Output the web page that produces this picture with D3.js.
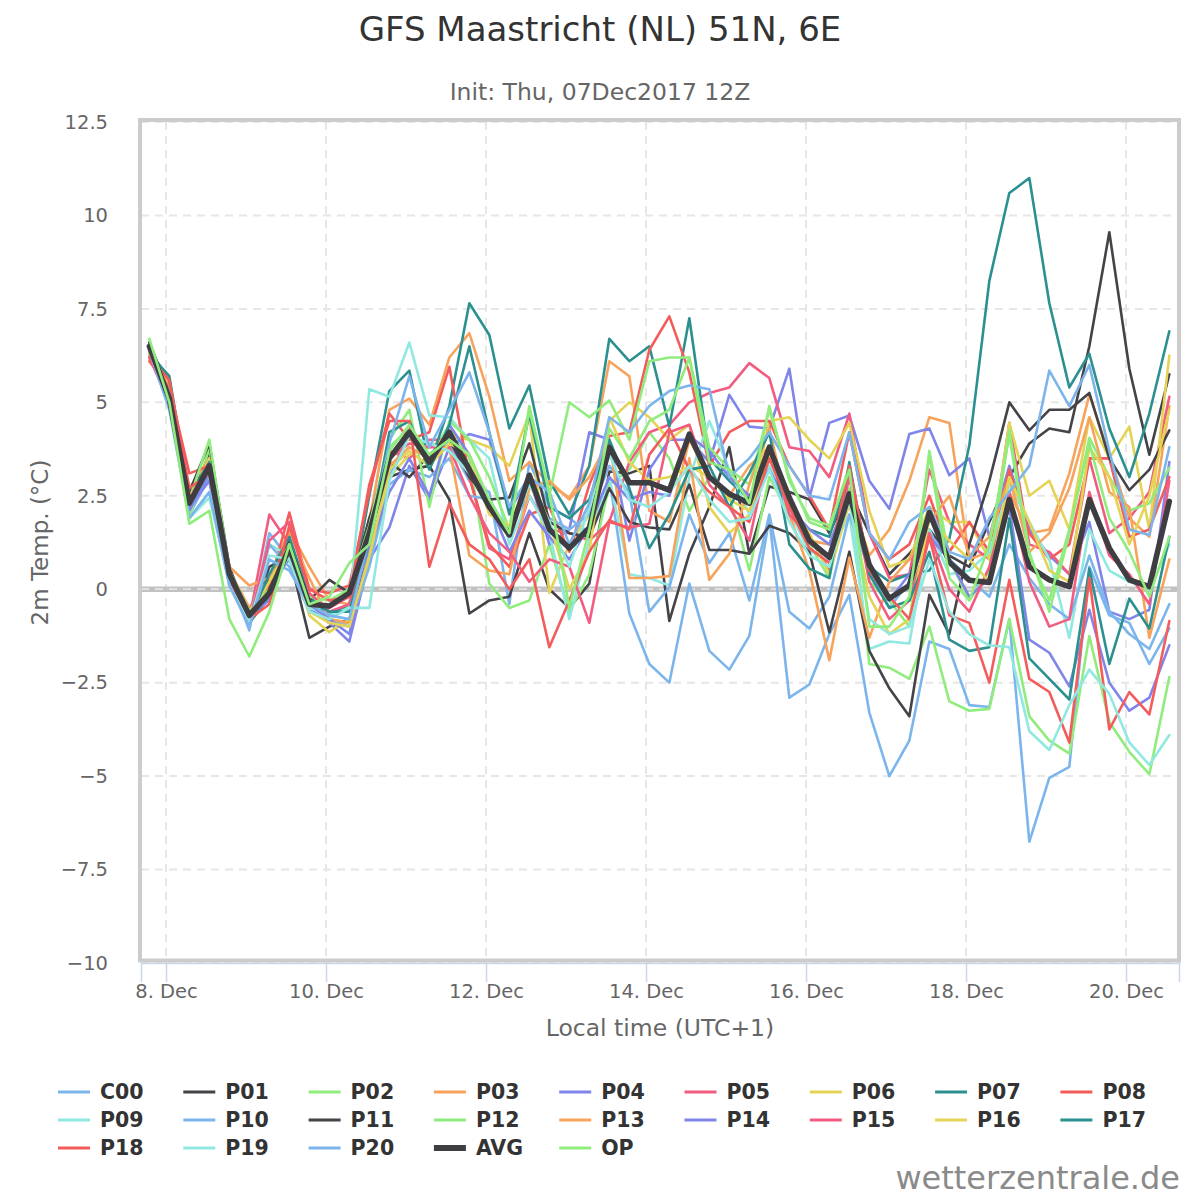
<!DOCTYPE html>
<html>
<head>
<meta charset="utf-8">
<title>GFS Maastricht</title>
<script src="https://cdn.jsdelivr.net/npm/d3@7"></script>
<style>
    body { margin: 0; background: #fff; }
    svg { font-family: "DejaVu Sans", Verdana, sans-serif; }
</style>
</head>
<body>
<svg id="chart" width="1200" height="1200"></svg>
<script>
// Run info
const chartTitle = 'GFS Maastricht (NL) 51N, 6E';
const chartSubtitle = 'Init: Thu, 07Dec2017 12Z';
const startTime = Date.UTC(2017, 11, 7, 19); // first step, local time
const stepHours = 6;

// Axis ticks
const yTicks = [-10, -7.5, -5, -2.5, 0, 2.5, 5, 7.5, 10, 12.5];
const tickDays = [8, 10, 12, 14, 16, 18, 20];

// Ensemble members, 2m temperature in °C, one value per 6 hours
const C00 = [6.3, 4.9, 2.0, 3.0, 0.3, -1.1, 1.5, 0.8, -0.5, -0.9, -0.9, 0.9,
    3.0, 4.2, 3.5, 3.9, 2.9, 2.6, -0.4, 3.4, 2.2, 1.9, 1.5,
    3.0, -0.65, -2.0, -2.5, 0.15, -1.65, -2.15, -1.25, 1.9, -2.9, -2.55, -1.2, -0.15, -3.3, -5.0, -4.05,
    -1.4, -1.6, -3.1, -3.15, -0.8, -6.75, -5.05, -4.75, 0.6, -0.7, -0.9, -2.0, -1.05];
const P01 = [6.5, 5.3, 2.4, 3.6, 0.4, -0.9, 0.6, 0.9, -1.3, -1.0, -0.8, 1.0,
    3.0, 3.2, 3.3, 2.4, -0.65, -0.3, -0.2, 1.5, 0.0, -0.5, 0.15,
    3.15, 3.1, 3.3, -0.85, 0.95, 2.2, 3.8, 0.95, 2.75, 2.6, 2.4, 1.5, 2.65, 1.5, 0.4, 0.95,
    1.6, 0.9, 0.6, 1.8, 3.0, 3.9, 4.3, 4.2, 6.5, 9.55, 5.9, 3.6, 5.75];
const P02 = [6.6, 5.0, 1.9, 3.8, 0.1, -0.9, -0.2, 1.0, -0.5, -0.6, -0.5, 1.2,
    3.8, 4.3, 3.5, 4.4, 3.5, 0.15, -0.5, -0.3, 1.2, -0.6, 0.4,
    2.8, 3.2, 4.2, 3.5, 2.1, 3.0, 2.5, 0.5, 3.0, 2.0, 1.2, 0.3, 2.7, -2.0, -2.1, -2.4,
    -1.0, -3.0, -3.25, -3.2, -0.8, -3.4, -4.05, -4.4, -1.25, -3.55, -4.35, -4.95, -2.35];
const P03 = [6.4, 5.4, 2.7, 3.5, 0.5, -0.5, 0.3, 1.6, 0.6, -0.3, -0.4, 1.8,
    4.8, 5.1, 4.4, 6.2, 6.85, 5.15, 2.9, 3.4, 2.8, 2.45, 3.3,
    6.1, 5.7, 2.1, 1.8, 4.0, 3.0, 2.5, 3.3, 3.8, 2.3, 1.3, 1.2, 2.6, 0.9, 1.6, 2.9,
    4.6, 4.45, 0.8, 1.0, 2.6, 1.5, 1.6, 3.1, 5.2, 3.6, 1.9, 1.4, 4.9];
const P04 = [6.4, 5.0, 2.1, 3.1, 0.3, -0.8, 0.1, 0.8, -0.5, -0.9, -1.4, 0.8,
    1.65, 3.3, 2.4, 3.8, 4.15, 4.0, 2.1, 3.0, 1.2, 1.6, 4.2,
    4.0, 1.3, 3.2, 4.0, 4.0, 3.4, 5.2, 4.35, 4.3, 5.9, 2.45, 4.45, 4.65, 2.9, 2.15, 4.15,
    4.3, 3.05, 3.5, 1.4, 3.3, 1.6, 0.9, 0.4, 1.8, -0.6, -0.8, -0.55, 3.4];
const P05 = [6.3, 5.2, 2.3, 3.4, 0.4, -0.8, 2.0, 1.2, -0.3, -0.5, -0.2, 1.9,
    3.7, 3.5, 4.0, 4.0, 3.0, 1.1, 0.8, 2.5, 1.6, 1.5, 1.3,
    1.8, 3.4, 4.2, 4.4, 5.0, 5.25, 5.4, 6.05, 5.65, 3.8, 3.7, 3.0, 4.7, 1.5, 0.3, 0.4,
    3.2, 1.8, 1.2, 0.8, 4.45, 1.2, 1.0, 0.4, 3.5, 1.5, 1.9, 2.6, 5.15];
const P06 = [6.4, 5.3, 2.3, 3.5, 0.5, -0.6, 0.3, 1.3, -0.7, -1.15, -0.8, 0.7,
    3.0, 3.6, 3.8, 4.1, 4.0, 3.8, 3.3, 4.7, -0.1, 1.2, 2.0,
    4.5, 5.0, 4.6, 4.0, 4.4, 2.2, 1.5, 2.0, 4.5, 4.6, 4.0, 3.5, 4.45, 2.1, 0.6, 0.8,
    2.2, 1.8, 1.8, 0.8, 4.45, 2.5, 2.9, 1.6, 4.6, 3.5, 4.35, 1.6, 6.25];
const P07 = [6.3, 5.7, 2.5, 3.4, 0.2, -0.9, -0.2, 1.4, -0.2, -0.7, -0.4, 2.5,
    5.3, 5.85, 3.3, 4.9, 7.65, 6.8, 4.3, 5.45, 2.9, 2.0, 3.3,
    6.7, 6.1, 6.5, 4.35, 7.25, 3.5, 2.9, 2.4, 3.7, 2.1, 1.6, 1.4, 3.1, 0.6, 0.2, 0.4,
    0.5, 1.35, 3.85, 8.25, 10.6, 11.0, 7.65, 5.4, 6.3, 4.3, 3.0, 4.7, 6.9];
const P08 = [6.1, 5.4, 3.1, 3.3, 0.4, -0.9, 0.1, 2.05, 0.0, -0.1, 0.1, 2.6,
    4.7, 4.0, 4.2, 5.95, 3.0, 1.2, 0.6, 2.0, 2.2, 1.0, 2.8,
    4.1, 4.2, 6.4, 7.3, 5.8, 3.3, 4.2, 4.5, 4.5, 3.3, 2.5, 1.6, 4.2, 1.5, 0.8, 1.2,
    2.5, 1.0, 1.8, 1.0, 3.2, 1.5, 0.8, 1.2, 3.5, 3.5, 1.4, 1.6, 3.0];
const P09 = [6.5, 5.1, 1.9, 2.45, 0.2, -0.8, 1.2, 0.9, -0.5, -0.7, -0.5, 5.35,
    5.15, 6.6, 4.65, 4.6, 4.0, 3.5, 1.2, 2.5, 1.5, -0.8, 1.3,
    3.0, 0.4, 0.3, 0.1, 3.0, 4.5, 3.2, 2.0, 3.3, 2.1, 1.0, 0.9, 2.0, -1.6, -1.4, -1.45,
    1.6, 0.4, 0.5, 1.0, 2.8, 1.8, 0.8, -1.3, 1.6, 0.5, 0.2, 0.0, 1.2];
const P10 = [6.2, 5.1, 2.2, 2.9, 0.2, -0.9, 1.2, 0.6, -0.6, -0.8, -1.0, 0.6,
    2.8, 3.2, 3.0, 3.5, 2.5, 2.4, 1.5, 2.9, 1.9, 1.6, 2.0,
    3.3, 2.6, -0.6, 0.05, 2.0, 0.7, 1.5, -0.3, 2.0, -0.6, -1.05, -0.2, 2.0, 0.5, -0.5, 0.2,
    1.5, 0.8, 0.3, -0.2, 1.2, 0.3, -0.4, -0.8, 0.9, -0.6, -1.2, -1.6, -0.4];
const P11 = [6.6, 5.2, 2.6, 3.9, 0.6, -0.8, 0.3, 1.3, -0.3, 0.25, -0.1, 1.9,
    3.4, 3.0, 3.6, 4.0, 3.0, 2.4, 2.45, 3.9, 1.8, 1.5, 1.4,
    2.7, 1.8, 1.65, 1.6, 2.8, 1.05, 1.05, 0.95, 1.7, 1.5, 1.0, -1.15, 1.0, -1.65, -2.65, -3.4,
    -0.15, -1.2, 1.2, 2.9, 5.0, 4.25, 4.8, 4.8, 5.25, 3.5, 2.65, 3.2, 4.25];
const P12 = [6.5, 5.2, 2.4, 4.0, 0.5, -0.6, 0.0, 0.9, -0.2, -0.3, 0.0, 1.7,
    4.0, 4.8, 2.2, 4.5, 4.0, 3.0, 1.6, 4.9, 2.5, 5.0, 4.6,
    5.05, 4.0, 6.1, 6.2, 6.2, 3.8, 3.2, 2.8, 4.8, 3.0, 1.8, 1.6, 3.3, 0.2, -0.3, -1.0,
    3.7, 0.8, -0.3, 0.5, 4.25, 1.0, -0.6, 1.5, 4.05, 3.0, 2.1, 2.3, 3.25];
const P13 = [6.2, 5.5, 2.5, 3.2, 0.6, 0.1, 0.3, 1.5, 0.3, -0.8, -0.9, 1.5,
    3.3, 3.8, 3.5, 3.8, 0.9, 0.5, 0.4, 2.7, 2.9, 2.4, 3.0,
    4.0, 0.3, 0.3, 0.35, 3.5, 0.25, 0.95, 2.8, 4.3, 2.0, 0.5, -1.9, 0.85, -1.3, 0.2, 0.8,
    1.8, 2.5, 0.9, 1.4, 3.0, 1.0, 1.5, 2.7, 4.6, 2.6, 2.2, -1.3, 0.8];
const P14 = [6.3, 4.9, 2.2, 2.9, 0.2, -0.7, -0.3, 1.0, -0.4, -0.8, -1.2, 1.1,
    2.6, 3.5, 2.5, 4.4, 3.6, 2.3, 1.0, 2.1, 1.4, 0.8, 1.7,
    3.0, 2.4, 2.6, 2.5, 4.1, 3.7, 3.0, 2.5, 3.2, 2.2, 1.6, 1.2, 2.6, 0.5, -0.3, 0.4,
    1.4, 0.8, -0.2, 0.3, 2.2, -1.35, -1.7, -2.6, -0.55, -2.5, -3.25, -2.9, -1.5];
const P15 = [6.2, 5.0, 2.4, 3.2, 0.2, -0.9, 1.3, 1.8, -0.1, -0.6, -0.4, 1.6,
    3.5, 3.9, 3.8, 3.8, 2.5, 1.5, 1.0, 0.2, 0.8, 0.6, -0.9,
    1.8, 1.65, 1.75, 4.2, 4.4, 2.8, 2.2, 1.3, 3.8, 2.0, 1.4, 0.5, 3.0, 0.2, -0.8, -0.3,
    1.5, 0.0, -0.6, 0.6, 2.6, 0.2, -1.0, -0.8, 2.6, 0.9, 0.4, -0.4, 2.9];
const P16 = [6.3, 5.1, 2.4, 3.3, 0.3, -0.7, 0.2, 1.2, -0.6, -0.9, -1.0, 0.9,
    3.2, 3.7, 3.3, 3.9, 3.6, 2.0, 1.7, 3.0, 1.8, 0.0, 1.0,
    4.6, 3.4, 2.9, 3.0, 3.3, 3.0, 2.4, 2.1, 3.6, 2.2, 1.5, 0.4, 2.3, -0.2, -1.2, -0.8,
    1.9, 1.3, 0.8, 0.2, 3.0, 1.8, 0.5, 0.2, 3.8, 3.0, 1.2, 2.5, 4.8];
const P17 = [6.4, 5.6, 2.3, 3.2, 0.3, -0.8, 0.4, 1.4, -0.3, -0.6, -0.6, 1.3,
    4.2, 4.5, 3.2, 4.4, 6.5, 4.2, 2.0, 4.7, 2.2, 1.9, 2.4,
    4.0, 2.7, 1.1, 2.0, 3.2, 3.3, 2.2, 3.1, 4.2, 1.2, 0.55, 0.3, 3.4, 0.4, -0.5, -0.3,
    1.0, -1.35, -1.65, -1.55, 1.9, -1.85, -2.4, -2.95, 0.55, -2.0, -0.25, -1.05, 1.4];
const P18 = [6.2, 5.6, 2.7, 3.1, 0.3, -0.8, -0.4, 1.7, 0.0, -0.3, -0.2, 2.8,
    4.5, 4.5, 0.6, 2.3, 1.2, 0.8, 0.0, 0.8, -1.55, -0.3, 1.0,
    1.85, 1.6, 3.6, 4.3, 3.2, 2.6, 2.2, 1.8, 3.5, 2.2, 1.1, 0.7, 3.3, 0.5, -0.2, -0.8,
    1.4, -0.7, -0.9, -2.5, 0.25, -2.4, -2.75, -4.1, 0.3, -3.75, -2.75, -3.35, -0.85];
const P19 = [6.4, 4.9, 1.9, 2.6, 0.1, -0.9, 0.9, 0.8, -0.6, -0.8, -0.5, -0.5,
    2.9, 4.1, 3.9, 3.7, 3.1, 2.3, 1.5, 2.8, 1.8, 0.6, 2.2,
    3.6, 2.4, 2.2, 2.6, 3.3, 2.4, 1.8, 1.9, 3.2, 1.8, 0.9, 0.6, 2.4, -0.8, -1.2, -1.0,
    0.8, -0.6, -1.2, -1.5, -1.55, -3.8, -4.3, -3.1, -2.15, -2.8, -4.1, -4.7, -3.9];
const P20 = [6.4, 4.8, 1.9, 2.6, 0.1, -1.0, 0.8, 0.5, -0.4, -0.7, -0.8, 1.4,
    3.9, 5.7, 3.8, 4.8, 5.8, 4.2, 2.2, 3.0, 2.6, 1.2, 2.3,
    4.6, 4.2, 4.9, 5.3, 5.45, 5.35, 3.0, 3.5, 4.2, 3.3, 2.5, 2.4, 4.2, 1.5, 0.8, 1.8,
    2.2, 1.0, 0.8, 1.9, 2.6, 3.3, 5.85, 4.9, 6.0, 3.7, 1.6, 1.45, 3.8];
const AVG = [6.5, 5.1, 2.3, 3.3, 0.4, -0.7, -0.1, 1.1, -0.4, -0.45, -0.1, 1.5,
    3.5, 4.2, 3.4, 4.2, 3.2, 2.2, 1.45, 3.05, 1.6, 1.1, 1.65,
    3.8, 2.85, 2.85, 2.65, 4.15, 3.0, 2.55, 2.3, 3.8, 2.45, 1.3, 0.85, 2.55, 0.65, -0.25, 0.1,
    2.05, 0.72, 0.24, 0.18, 2.4, 0.6, 0.25, 0.07, 2.4, 1.1, 0.25, 0.07, 2.35];
const OP = [6.7, 5.0, 1.75, 2.1, -0.8, -1.8, -0.6, 1.2, -0.4, -0.2, 0.7, 1.2,
    3.7, 4.4, 3.6, 4.0, 3.6, 2.4, 1.5, 4.8, 2.6, -0.5, 1.6,
    4.3, 3.5, 4.5, 4.8, 6.2, 3.4, 3.2, 2.3, 4.9, 2.9, 1.9, 1.7, 3.2, -1.0, -1.0, -0.2,
    3.6, 0.3, -0.3, 1.2, 4.1, 0.9, -0.3, 1.6, 3.9, 1.9, 1.0, -0.2, 1.4];

const seriesNames = ['C00', 'P01', 'P02', 'P03', 'P04', 'P05', 'P06', 'P07', 'P08', 'P09',
    'P10', 'P11', 'P12', 'P13', 'P14', 'P15', 'P16', 'P17', 'P18', 'P19', 'P20', 'AVG', 'OP'];
const seriesValues = [C00, P01, P02, P03, P04, P05, P06, P07, P08, P09,
    P10, P11, P12, P13, P14, P15, P16, P17, P18, P19, P20, AVG, OP];

// Highcharts style palette, repeated for the members
const palette = ['#7cb5ec', '#434348', '#90ed7d', '#f7a35c', '#8085e9',
    '#f15c80', '#e4d354', '#2b908f', '#f45b5b', '#91e8e1'];
const HOUR = 3600 * 1000;

// Layout
const svg = d3.select('#chart');
const plot = { left: 141, right: 1179, top: 122, bottom: 963 };

function timeAt(i) {
    return new Date(startTime + i * stepHours * HOUR);
}

function colorOf(name, idx) {
    if (name === 'AVG') return '#3d3d42';
    if (name === 'OP') return '#90ed7d';
    return palette[idx % palette.length];
}

const lastIdx = AVG.length - 1;
const x = d3.scaleUtc()
    .domain([new Date(startTime - 2.5 * HOUR), new Date(timeAt(lastIdx).getTime() + 2.9 * HOUR)])
    .range([plot.left, plot.right]);

const y = d3.scaleLinear()
    .domain([-10, 12.5])
    .range([plot.bottom, plot.top]);

const fmtY = d => (d < 0 ? '\u2212' : '') + Math.abs(d);
const fmtX = d3.utcFormat('%-d. %b');
const tickDates = tickDays.map(d => new Date(Date.UTC(2017, 11, d)));

// Titles
svg.append('text')
    .attr('x', 600).attr('y', 41)
    .attr('text-anchor', 'middle')
    .attr('font-size', 34)
    .attr('fill', '#333')
    .text(chartTitle);

svg.append('text')
    .attr('x', 600).attr('y', 100)
    .attr('text-anchor', 'middle')
    .attr('font-size', 23.5)
    .attr('fill', '#666')
    .text(chartSubtitle);

// Grid lines
const grid = svg.append('g');
grid.selectAll('line.hgrid')
    .data(yTicks)
    .enter()
    .append('line')
    .attr('x1', plot.left).attr('x2', plot.right)
    .attr('y1', d => y(d)).attr('y2', d => y(d))
    .attr('stroke', '#e6e6e6')
    .attr('stroke-width', 2)
    .attr('stroke-dasharray', '8,6');

grid.selectAll('line.vgrid')
    .data(tickDates)
    .enter()
    .append('line')
    .attr('x1', d => x(d)).attr('x2', d => x(d))
    .attr('y1', plot.top).attr('y2', plot.bottom)
    .attr('stroke', '#e6e6e6')
    .attr('stroke-width', 2)
    .attr('stroke-dasharray', '8,6');

// Zero line
svg.append('line')
    .attr('x1', plot.left).attr('x2', plot.right)
    .attr('y1', y(0)).attr('y2', y(0))
    .attr('stroke', '#c2c2c2')
    .attr('stroke-width', 5.5);
svg.append('line')
    .attr('x1', plot.left).attr('x2', plot.right)
    .attr('y1', y(0)).attr('y2', y(0))
    .attr('stroke', '#e4e4e4')
    .attr('stroke-width', 1.8)
    .attr('stroke-dasharray', '8,6');

// Series
svg.append('clipPath').attr('id', 'plot-clip')
    .append('rect')
    .attr('x', plot.left).attr('y', plot.top - 2)
    .attr('width', plot.right - plot.left).attr('height', plot.bottom - plot.top);

const line = d3.line()
    .x((d, i) => x(timeAt(i)))
    .y(d => y(d));

const seriesGroup = svg.append('g').attr('clip-path', 'url(#plot-clip)');
seriesNames.forEach((name, idx) => {
    seriesGroup.append('path')
        .datum(seriesValues[idx])
        .attr('d', line)
        .attr('fill', 'none')
        .attr('stroke', colorOf(name, idx))
        .attr('stroke-width', name === 'AVG' ? 5.5 : 2.6)
        .attr('stroke-linejoin', 'round')
        .attr('stroke-linecap', 'round');
});

// Plot border
svg.append('rect')
    .attr('x', plot.left - 1).attr('y', plot.top - 2)
    .attr('width', plot.right - plot.left + 1).attr('height', plot.bottom - plot.top - 0.5)
    .attr('fill', 'none')
    .attr('stroke', '#cccccc')
    .attr('stroke-width', 4);

// Y axis
const yAxis = svg.append('g')
    .attr('transform', `translate(${plot.left - 33},0)`)
    .call(d3.axisLeft(y).tickValues(yTicks).tickFormat(fmtY).tickSize(0).tickPadding(0));
yAxis.select('.domain').remove();
yAxis.selectAll('text')
    .attr('font-family', '"DejaVu Sans", Verdana, sans-serif')
    .attr('font-size', 19.5)
    .attr('fill', '#666');

svg.append('text')
    .attr('transform', `translate(48,${(plot.top + plot.bottom) / 2}) rotate(-90)`)
    .attr('text-anchor', 'middle')
    .attr('font-size', 23)
    .attr('fill', '#666')
    .text('2m Temp. (°C)');

// X axis
const xAxis = svg.append('g')
    .attr('transform', `translate(0,${plot.bottom})`)
    .call(d3.axisBottom(x).tickValues(tickDates).tickFormat(fmtX).tickSize(19).tickPadding(2));
xAxis.select('.domain')
    .attr('stroke', '#ccd6eb')
    .attr('stroke-width', 1.5);
xAxis.selectAll('.tick line')
    .attr('stroke', '#ccd6eb')
    .attr('stroke-width', 1.5);
xAxis.selectAll('text')
    .attr('font-family', '"DejaVu Sans", Verdana, sans-serif')
    .attr('font-size', 19.5)
    .attr('fill', '#666');

svg.append('text')
    .attr('x', (plot.left + plot.right) / 2).attr('y', 1036)
    .attr('text-anchor', 'middle')
    .attr('font-size', 23.5)
    .attr('fill', '#666')
    .text('Local time (UTC+1)');

// Legend, nine items per row
const legend = svg.append('g');
const colStep = 125.3;
seriesNames.forEach((name, idx) => {
    const col = idx % 9;
    const row = Math.floor(idx / 9);
    const lx = 58 + col * colStep;
    const ly = 1092 + row * 28;
    legend.append('line')
        .attr('x1', lx).attr('x2', lx + 32)
        .attr('y1', ly).attr('y2', ly)
        .attr('stroke', colorOf(name, idx))
        .attr('stroke-width', name === 'AVG' ? 6 : 3);
    legend.append('text')
        .attr('x', lx + 42).attr('y', ly)
        .attr('dy', '0.36em')
        .attr('font-size', 20.5)
        .attr('font-weight', 'bold')
        .attr('fill', '#333')
        .text(name);
});

// Credit
svg.append('text')
    .attr('x', 1180).attr('y', 1189)
    .attr('text-anchor', 'end')
    .attr('font-size', 32)
    .attr('fill', '#8a8a8a')
    .text('wetterzentrale.de');
</script>
</body>
</html>
